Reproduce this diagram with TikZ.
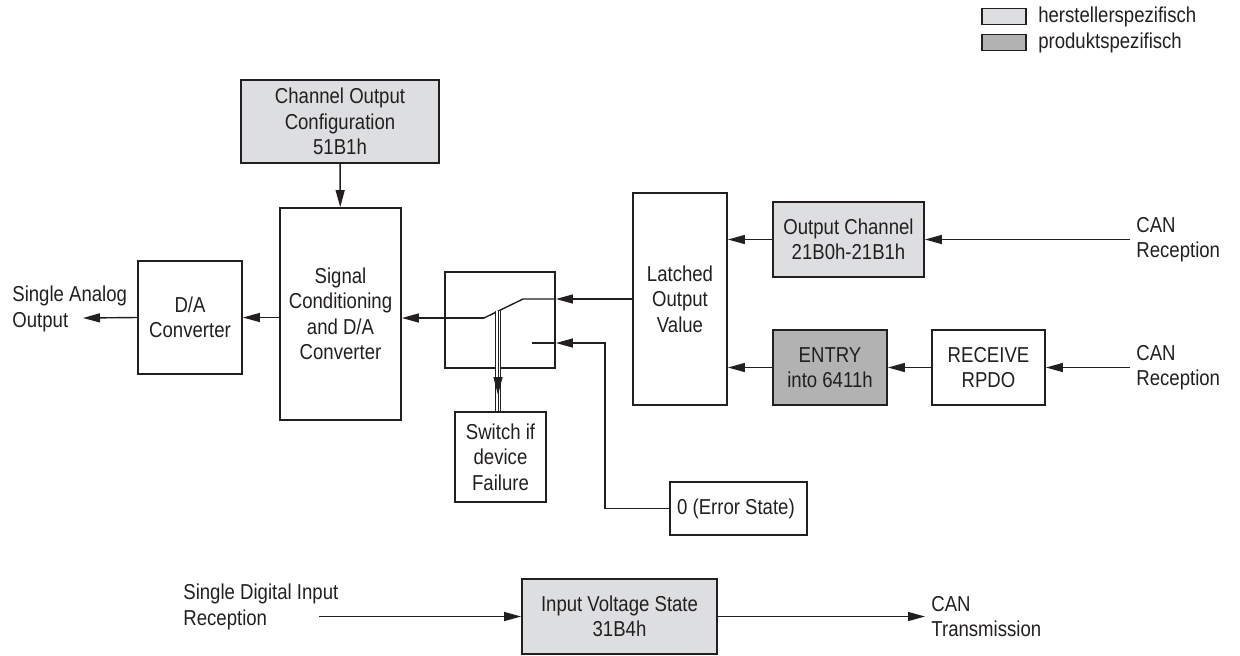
\documentclass[tikz,border=0pt]{standalone}
\usepackage{fontspec}
\setmainfont{Liberation Sans}[FakeStretch=0.86]
\usepackage{tikz}
\usetikzlibrary{
  arrows.meta,
  positioning
}
\definecolor{linecolor}{RGB}{35, 31, 32}
\definecolor{vendorcolor}{RGB}{221, 222, 223}
\definecolor{productcolor}{RGB}{178, 178, 178}
\newcommand{\blockfont}{\fontsize{10.8pt}{12.75pt}\selectfont}
\tikzset{
blocktext/.style={
  align=center,
  font=\blockfont,
  text=linecolor
},
plainblock/.style={
  draw=linecolor,
  line width=0.9pt,
  fill=white,
  inner sep=2pt,
  blocktext
},
vendorblock/.style={
  plainblock,
  fill=vendorcolor
},
productblock/.style={
  plainblock,
  fill=productcolor
},
sidelabel/.style={
  align=left,
  font=\blockfont,
  text=linecolor,
  inner sep=3pt
},
legendbox/.style={
  draw=linecolor,
  line width=0.9pt,
  minimum width=22pt,
  minimum height=8pt,
  inner sep=0pt
},
wire/.style={
  line width=0.7pt,
  draw=linecolor
},
arrow/.style={
  -{Triangle[length=8.5pt,width=4.5pt]},
  wire
}
}

\begin{document}
\begin{tikzpicture}[x=0.5pt, y=-0.5pt]
      \useasboundingbox (0,0) rectangle (1240,655);

      % Legend
      \node[legendbox, fill=vendorcolor] (legvendor) at (1004,16.5) {};
      \node[legendbox, fill=productcolor] (legproduct) at (1004,42.5) {};
      \node[sidelabel, right=2.5pt of legvendor] (legvendortext) {herstellerspezifisch};
      \node[sidelabel, right=2.5pt of legproduct] (legproducttext) {produktspezifisch};

      % Configuration and conditioning
      \node[vendorblock, minimum width=99pt, minimum height=41.5pt] (chcfg) at (340,121.5) {
        Channel Output\\Configuration\\51B1h
      };
      \node[plainblock, minimum width=60.5pt, minimum height=106pt] (sigcond) at (340.5,314) {
        Signal\\Conditioning\\and D/A\\Converter
      };
      \node[plainblock, minimum width=52pt, minimum height=56.5pt] (dac) at (190,317.5) {
        D/A\\Converter
      };
      \node[sidelabel, anchor=west] (analogout) at (6,309) {Single Analog\\Output};

      % Switch
      \node[plainblock, minimum width=55pt, minimum height=48pt] (swbox) at (500,320) {};
      \node[plainblock, minimum width=45.5pt, minimum height=45pt] (failbox) at (500.5,457) {
        Switch if\\device\\Failure
      };
      \node[plainblock, minimum width=68.5pt, minimum height=26.5pt] (errstate) at (738.5,508.5) {
        0 (Error State)
      };

      % Latched value and its sources
      \node[plainblock, minimum width=47pt, minimum height=106pt] (latched) at (680,299) {
        Latched\\Output\\Value
      };
      \node[vendorblock, minimum width=75.5pt, minimum height=37.5pt] (outch) at (848.5,239.5) {
        Output Channel\\21B0h-21B1h
      };
      \node[productblock, minimum width=57pt, minimum height=37.5pt] (entry) at (830,367.5) {
        ENTRY\\into 6411h
      };
      \node[plainblock, minimum width=56.5pt, minimum height=37.5pt] (rpdo) at (988.5,367.5) {
        RECEIVE\\RPDO
      };
      \node[sidelabel, anchor=west] (canrx1) at (1130,239.5) {CAN\\Reception};
      \node[sidelabel, anchor=west] (canrx2) at (1130,367.5) {CAN\\Reception};

      % Digital input
      \node[vendorblock, minimum width=97.5pt, minimum height=37.5pt] (ivs) at (619.5,616.5) {
        Input Voltage State\\31B4h
      };
      \node[sidelabel, anchor=west] (digin) at (177,607) {Single Digital Input\\Reception};
      \node[sidelabel, anchor=west] (cantx) at (925,616.5) {CAN\\Transmission};

      % Switch points
      \coordinate (swpivot) at (484,318);
      \coordinate (swblade) at (523,299);
      \coordinate (swerr) at (532,343);
      \coordinate (errbend) at (605,343);
      \coordinate (swmid) at (498,311);
      \coordinate (swtip) at (498,395);
      \coordinate (aout) at (83,318);
      \coordinate (dinstart) at (319,616.5);

      % Arrows
      \draw[arrow] (chcfg) -- (sigcond);
      \draw[arrow] (sigcond.west |- dac.east) -- (dac.east);
      \draw[arrow] (dac.west) -- (aout);
      \draw[arrow] (swpivot) -- (sigcond.east |- swpivot);
      \draw[wire] (swpivot) -- (swblade) -- (swbox.east |- swblade);
      \draw[arrow] (latched.west |- swblade) -- (swbox.east |- swblade);
      \draw[wire] (swerr) -- (swbox.east |- swerr);
      \draw[arrow] (errstate.west) -| (errbend) -- (swbox.east |- swerr);

      % Failure switch line
      \draw[wire, line width=0.5pt, double, double distance=2pt] (swmid) -- (swmid |- failbox.north);
      \draw[wire, line width=0.5pt] (swmid) -- (swmid |- failbox.north);
      \draw[-{Triangle[length=9pt,width=4.5pt]}, wire, line width=0.5pt] (swmid) -- (swtip);

      \draw[arrow] (outch.west) -- (latched.east |- outch.west);
      \draw[arrow] (entry.west) -- (latched.east |- entry.west);
      \draw[arrow] (rpdo) -- (entry);
      \draw[arrow] (canrx1.west) -- (outch.east);
      \draw[arrow] (canrx2.west) -- (rpdo.east);
      \draw[arrow] (dinstart) -- (ivs.west);
      \draw[arrow] (ivs.east) -- (cantx.west);
    \end{tikzpicture}
\end{document}
